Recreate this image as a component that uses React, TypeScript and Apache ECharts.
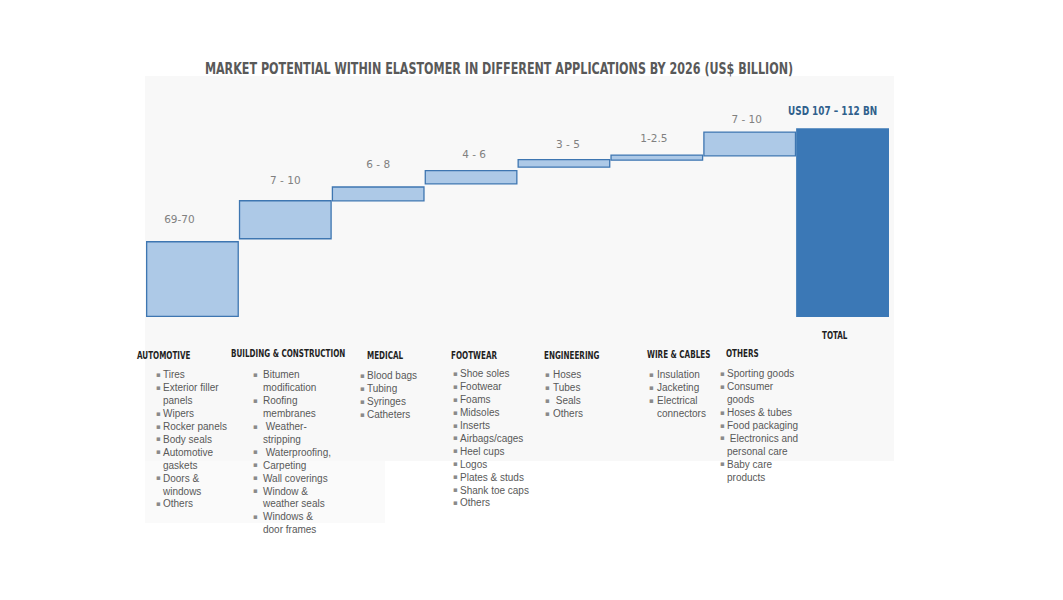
import React, { useEffect, useRef } from "react";
import * as echarts from "echarts";

const titleText =
  "MARKET POTENTIAL WITHIN ELASTOMER IN DIFFERENT APPLICATIONS BY 2026 (US$ BILLION)";

const categories = [
  "AUTOMOTIVE",
  "BUILDING & CONSTRUCTION",
  "MEDICAL",
  "FOOTWEAR",
  "ENGINEERING",
  "WIRE & CABLES",
  "OTHERS",
  "TOTAL",
];
const rangeLabels = ["69-70", "7 - 10", "6 - 8", "4 - 6", "3 - 5", "1-2.5", "7 - 10", "USD 107 – 112 BN"];
// bar bottoms and tops as drawn (the picture is not to scale)
const barStart = [0, 45.2, 67.3, 77.2, 86.9, 91.0, 93.5, 0];
const barEnd = [44.2, 68.1, 76.1, 85.6, 92.0, 94.7, 108.1, 110];

const automotiveApps = ["Tires", "Exterior filler\npanels", "Wipers", "Rocker panels", "Body seals", "Automotive\ngaskets", "Doors &\nwindows", "Others"];
const constructionApps = ["Bitumen\nmodification", "Roofing\nmembranes", " Weather-\nstripping", " Waterproofing,", "Carpeting", "Wall coverings", "Window &\nweather seals", "Windows &\ndoor frames"];
const medicalApps = ["Blood bags", "Tubing", "Syringes", "Catheters"];
const footwearApps = ["Shoe soles", "Footwear", "Foams", "Midsoles", "Inserts", "Airbags/cages", "Heel cups", "Logos", "Plates & studs", "Shank toe caps", "Others"];
const engineeringApps = ["Hoses", "Tubes", " Seals", "Others"];
const wireApps = ["Insulation", "Jacketing", "Electrical\nconnectors"];
const otherApps = ["Sporting goods", "Consumer\ngoods", "Hoses & tubes", "Food packaging", " Electronics and\npersonal care", "Baby care\nproducts"];

const appLists = [automotiveApps, constructionApps, medicalApps, footwearApps, engineeringApps, wireApps, otherApps];

// layout (pixels)
const headingPos = [[137, 356], [231, 354], [367, 356], [451, 356], [544, 356], [647, 355], [726, 354], [822, 336]];
const listPos = [[156, 163, 375], [253, 263, 375], [360, 367, 376], [453, 460, 374], [545, 553, 375], [649, 657, 375], [720, 727, 374]];
const labelDist = [17, 15, 17, 11, 10, 11, 7, 12];
const labelOffX = [-13, 0, 0, 3, 4, -3, -3, -9];

const COND = "'DejaVu Sans Condensed', 'Liberation Sans Narrow', sans-serif";
const LINE_H = 12.9;

export default function App() {
  const ref = useRef<HTMLDivElement>(null);
  useEffect(() => {
    if (!ref.current) return;
    const chart = echarts.init(ref.current, null, { renderer: "svg" });
    const last = categories.length - 1;

    const visible = barEnd.map((e, i) => {
      const isTotal = i === last;
      return {
        value: +(e - barStart[i]).toFixed(2),
        itemStyle: isTotal
          ? { color: "#3b78b6", borderColor: "#3b78b6", borderWidth: 0 }
          : { color: "#adc9e7", borderColor: "#3e76b1", borderWidth: 1.3 },
        label: isTotal ? { show: false } : { distance: labelDist[i], offset: [labelOffX[i], 0] },
      };
    });

    chart.setOption({
      animation: false,
      backgroundColor: "#ffffff",
      grid: { left: 146, right: 174, top: 111, bottom: 283 },
      xAxis: { type: "category", data: categories, show: false },
      yAxis: { type: "value", min: 0, max: 120, show: false },
      series: [
        {
          type: "bar",
          stack: "w",
          data: barStart,
          itemStyle: { color: "transparent" },
          silent: true,
          barCategoryGap: "0%",
        },
        {
          type: "bar",
          stack: "w",
          data: visible,
          barCategoryGap: "0%",
          label: {
            show: true,
            position: "top",
            formatter: (p: any) => rangeLabels[p.dataIndex],
            fontFamily: "'DejaVu Sans', sans-serif",
            fontSize: 10.5,
            color: "#808080",
          },
        },
      ],
    });

    const graphics: any[] = [
      { type: "rect", z: -10, shape: { x: 145, y: 76, width: 749, height: 385 }, style: { fill: "#f8f8f8" }, silent: true },
      { type: "rect", z: -10, shape: { x: 145, y: 461, width: 240, height: 62 }, style: { fill: "#fafafa" }, silent: true },
      {
        type: "text",
        x: 499,
        y: 68,
        scaleX: 0.775,
        style: { text: titleText, font: `bold 16px ${COND}`, fill: "#595959", align: "center", verticalAlign: "middle" },
      },
    ];

    // total label, placed through the chart's own scales
    const tp = chart.convertToPixel({ xAxisIndex: 0, yAxisIndex: 0 }, [categories[last], barEnd[last]]) as number[];
    graphics.push({
      type: "text",
      x: tp[0] - 10,
      y: tp[1] - 18,
      scaleX: 0.76,
      style: { text: rangeLabels[last], font: `bold 13px ${COND}`, fill: "#2f5f8c", align: "center", verticalAlign: "middle" },
    });

    categories.forEach((c, i) => {
      graphics.push({
        type: "text",
        x: headingPos[i][0],
        y: headingPos[i][1],
        scaleX: 0.8,
        style: { text: c, font: `bold 10px ${COND}`, fill: "#1f1f1f", align: "left", verticalAlign: "middle" },
      });
    });

    appLists.forEach((items, i) => {
      const bullets: string[] = [];
      const lines: string[] = [];
      items.forEach((it) => {
        it.split("\n").forEach((ln, k) => {
          bullets.push(k === 0 ? "▪" : " ");
          lines.push(ln);
        });
      });
      const [bx, tx, y0] = listPos[i];
      graphics.push({
        type: "text",
        x: bx,
        y: y0 - LINE_H / 2,
        style: { text: bullets.join("\n"), font: `7px 'DejaVu Sans', sans-serif`, lineHeight: LINE_H, fill: "#8a8a8a", align: "left", verticalAlign: "top" },
      });
      graphics.push({
        type: "text",
        x: tx,
        y: y0 - LINE_H / 2,
        style: { text: lines.join("\n"), font: `10px 'Liberation Sans', sans-serif`, lineHeight: LINE_H, fill: "#595959", align: "left", verticalAlign: "top" },
      });
    });

    chart.setOption({ graphic: { elements: graphics } });
    return () => chart.dispose();
  }, []);
  return <div ref={ref} style={{ position: "absolute", left: 0, top: 0, width: 1063, height: 600 }} />;
}
